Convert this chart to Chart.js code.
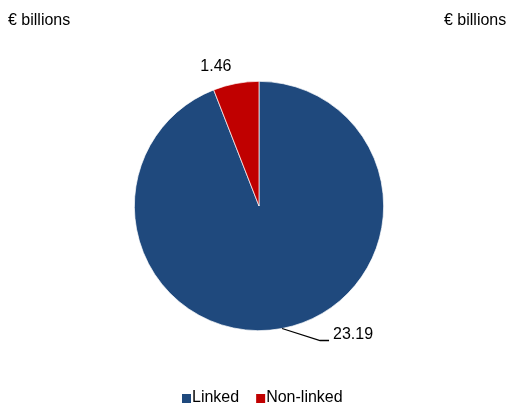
<!DOCTYPE html>
<html>
<head>
<meta charset="utf-8">
<script src="https://cdn.jsdelivr.net/npm/chart.js@4"></script>
<style>
  body { margin: 0; background: #fff; }
  #wrap { position: relative; width: 520px; height: 405px; }
  .unit { position: absolute; top: 11px; font: 16px "Liberation Sans", Arial, sans-serif; color: #000; }
</style>
</head>
<body>
<div id="wrap">
  <canvas id="pie" width="520" height="405"></canvas>
  <div class="unit" style="left:8px">€ billions</div>
  <div class="unit" style="left:444px">€ billions</div>
</div>
<script>
const categories = ['Linked', 'Non-linked'];
const values = [23.19, 1.46];
const colors = ['#1F497D', '#C00000'];

const FONT = '16px "Liberation Sans", Arial, sans-serif';

const labelsPlugin = {
    id: 'sliceLabels',
    afterDraw(chart) {
        const ctx = chart.ctx;
        const arcs = chart.getDatasetMeta(0).data;
        ctx.save();
        ctx.font = FONT;
        ctx.fillStyle = '#000';
        arcs.forEach((arc, i) => {
            const mid = (arc.startAngle + arc.endAngle) / 2;
            const px = arc.x + arc.outerRadius * Math.cos(mid);
            const py = arc.y + arc.outerRadius * Math.sin(mid);
            const txt = values[i].toFixed(2);
            if (i === 0) {
                // leader line
                ctx.strokeStyle = '#000';
                ctx.lineWidth = 1.3;
                ctx.beginPath();
                ctx.moveTo(px, py);
                ctx.lineTo(px + 38, py + 12);
                ctx.lineTo(px + 47, py + 12);
                ctx.stroke();
                ctx.textAlign = 'left';
                ctx.textBaseline = 'middle';
                ctx.fillText(txt, px + 51, py + 6);
            } else {
                ctx.textAlign = 'center';
                ctx.textBaseline = 'middle';
                ctx.fillText(txt, px - 20, py - 17);
            }
        });

        // legend
        ctx.textAlign = 'left';
        ctx.textBaseline = 'middle';
        const ly = 398;
        let x = 182;
        categories.forEach((c, i) => {
            ctx.fillStyle = colors[i];
            ctx.fillRect(x, ly - 4, 9, 9);
            ctx.fillStyle = '#000';
            ctx.fillText(c, x + 10, ly);
            x += 10 + ctx.measureText(c).width + 17;
        });
        ctx.restore();
    }
};

new Chart(document.getElementById('pie'), {
    type: 'pie',
    data: {
        labels: categories,
        datasets: [{
            data: values,
            backgroundColor: colors,
            borderColor: '#ffffff',
            borderWidth: 0.7
        }]
    },
    options: {
        responsive: false,
        animation: false,
        layout: {
            padding: { left: 134, right: 136, top: 81, bottom: 74 }
        },
        plugins: {
            legend: { display: false },
            tooltip: { enabled: false }
        }
    },
    plugins: [labelsPlugin]
});
</script>
</body>
</html>
